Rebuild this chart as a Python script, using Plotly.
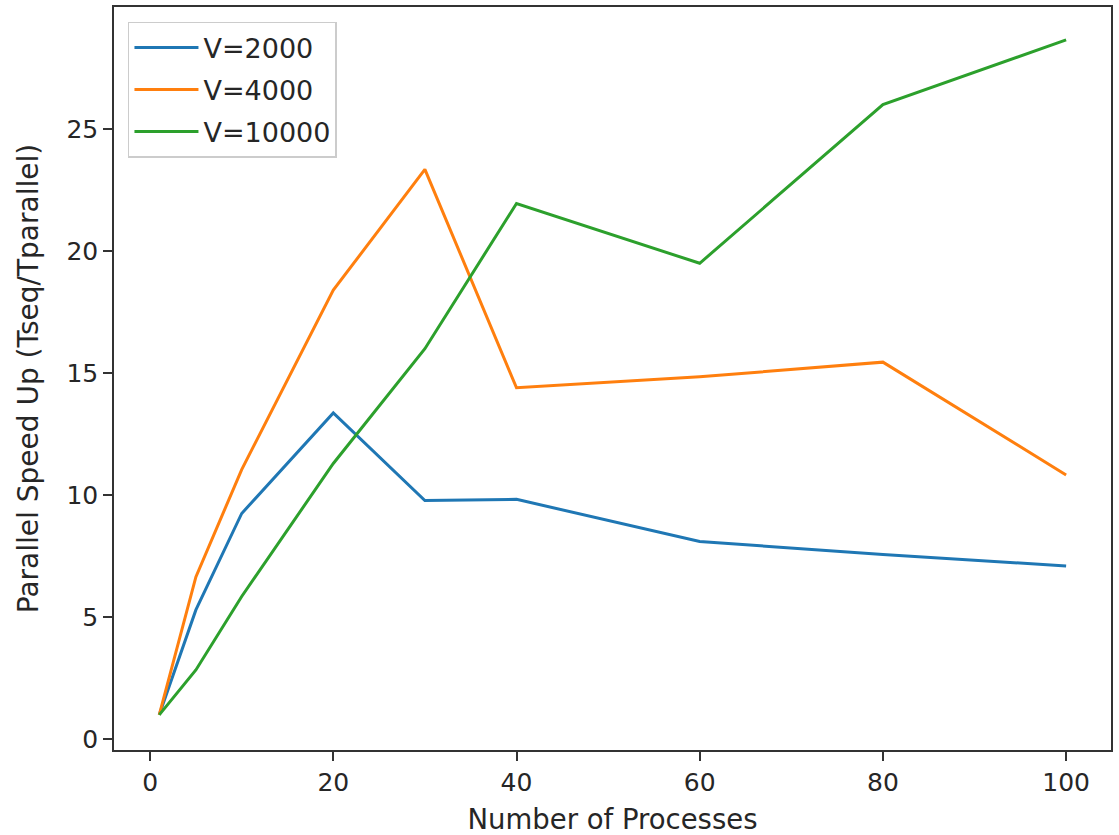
import plotly.graph_objects as go

processes = [1, 5, 10, 20, 30, 40, 60, 80, 100]
speedup_v2000 = [1.0, 5.3, 9.25, 13.37, 9.78, 9.83, 8.1, 7.57, 7.1]
speedup_v4000 = [1.0, 6.65, 11.05, 18.4, 23.35, 14.4, 14.85, 15.45, 10.83]
speedup_v10000 = [1.0, 2.84, 5.85, 11.3, 16.0, 21.95, 19.5, 26.0, 28.65]
series_names = ["V=2000", "V=4000", "V=10000"]
series_colors = ["#1f77b4", "#ff7f0e", "#2ca02c"]
x_ticks = [0, 20, 40, 60, 80, 100]
y_ticks = [0, 5, 10, 15, 20, 25]

FONT = "DejaVu Sans"
fig = go.Figure()
for name, ys, col in zip(series_names, [speedup_v2000, speedup_v4000, speedup_v10000], series_colors):
    fig.add_trace(go.Scatter(x=processes, y=ys, mode="lines", name=name,
                             legendgroup=name,
                             line=dict(color=col, width=3)))

axis_common = dict(showgrid=False, zeroline=False, showline=True, mirror=True,
                   linecolor="#333333", linewidth=1.6, ticks="outside", ticklen=9,
                   tickwidth=1.6, tickcolor="#333333", automargin=False,
                   tickfont=dict(family=FONT, size=25, color="#262626"))

fig.update_layout(
    width=1119, height=835,
    margin=dict(l=114, r=8, t=7, b=85),
    paper_bgcolor="white", plot_bgcolor="white",
    font=dict(family=FONT, size=25, color="#262626"),
    xaxis=dict(range=[-3.94, 104.9], tickvals=x_ticks,
               title=dict(text="Number of Processes", font=dict(family=FONT, size=27.5, color="#262626"), standoff=19),
               **axis_common),
    yaxis=dict(range=[-0.44, 30.0], tickvals=y_ticks,
               title=dict(text="Parallel Speed Up (Tseq/Tparallel)", font=dict(family=FONT, size=28, color="#262626"), standoff=20),
               **axis_common),
    legend=dict(x=0.014, y=0.98, xanchor="left", yanchor="top",
                bgcolor="rgba(255,255,255,0.9)", bordercolor="#cccccc", borderwidth=1.5,
                font=dict(family=FONT, size=27, color="#262626"),
                traceorder="grouped", tracegroupgap=4, itemwidth=64),
)

fig.write_html("out.html", config={"displayModeBar": False},
               post_script="document.body.style.margin='0';document.body.style.overflow='hidden';")
